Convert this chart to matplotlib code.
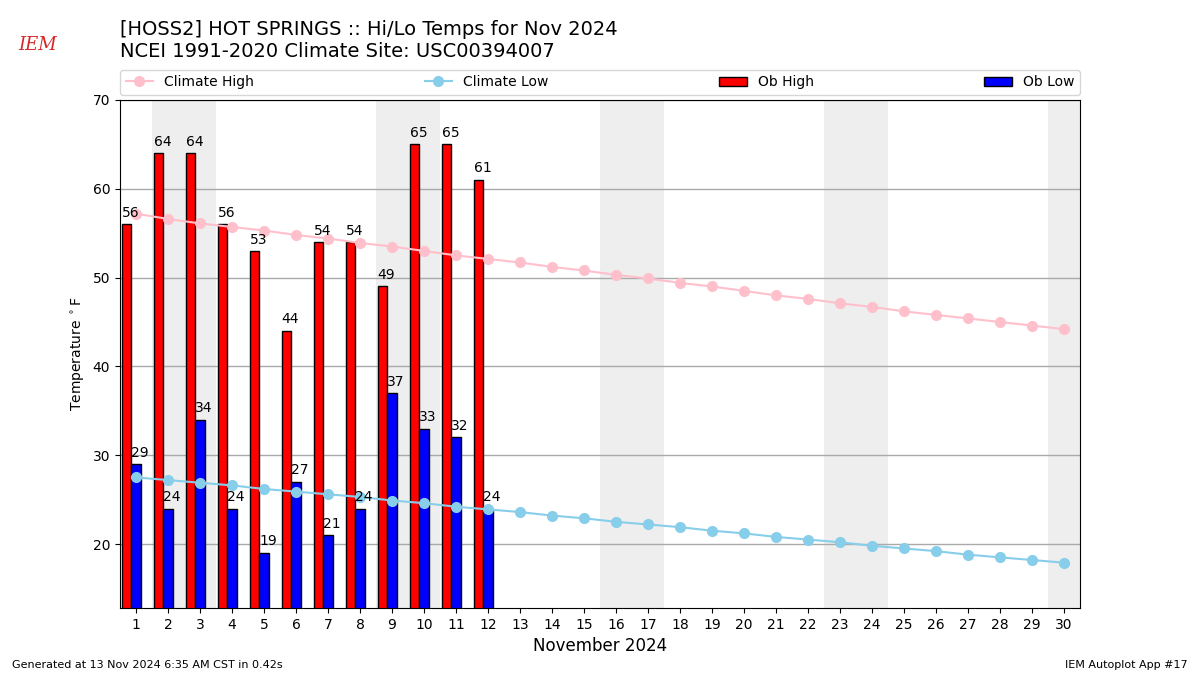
import numpy as np
import matplotlib
matplotlib.use('Agg')
import matplotlib.pyplot as plt

# Observed daily values (days 1-12)
obs_days = np.arange(1, 13)
ob_high = [56, 64, 64, 56, 53, 44, 54, 54, 49, 65, 65, 61]
ob_low = [29, 24, 34, 24, 19, 27, 21, 24, 37, 33, 32, 24]

# NCEI 1991-2020 climatology (days 1-30)
days = np.arange(1, 31)
climate_high = [57.2, 56.6, 56.1, 55.7, 55.3, 54.8, 54.4, 53.9, 53.5, 53.0,
                52.5, 52.1, 51.7, 51.2, 50.8, 50.3, 49.9, 49.4, 49.0, 48.5,
                48.0, 47.6, 47.1, 46.7, 46.2, 45.8, 45.4, 45.0, 44.6, 44.2]
climate_low = [27.5, 27.2, 26.9, 26.6, 26.2, 25.9, 25.6, 25.3, 24.9, 24.6,
               24.2, 23.9, 23.6, 23.2, 22.9, 22.5, 22.2, 21.9, 21.5, 21.2,
               20.8, 20.5, 20.2, 19.8, 19.5, 19.2, 18.8, 18.5, 18.2, 17.9]
weekends = [2, 9, 16, 23, 30]  # Saturdays

fig = plt.figure(figsize=(12, 6.75), dpi=100)
ax = fig.add_axes([0.1, 0.0993, 0.8, 0.7526])

# weekend shading
for d in weekends:
    ax.axvspan(d - 0.5, min(d + 1.5, 30.5), color='#EEEEEE', zorder=0, lw=0)

ax.plot(days, climate_high, color='pink', marker='o', ms=7, lw=1.5,
        label='Climate High', zorder=3)
ax.plot(days, climate_low, color='skyblue', marker='o', ms=7, lw=1.5,
        label='Climate Low', zorder=3)

ax.bar(obs_days - 0.3, ob_high, width=0.3, color='red', edgecolor='k',
       label='Ob High', zorder=2)
ax.bar(obs_days, ob_low, width=0.3, color='b', edgecolor='k',
       label='Ob Low', zorder=2)

for d, h, l in zip(obs_days, ob_high, ob_low):
    ax.text(d - 0.45, h + 0.5, str(h), ha='left', va='bottom', fontsize=10, zorder=4)
    ax.text(d - 0.15, l + 0.5, str(l), ha='left', va='bottom', fontsize=10, zorder=4)

ax.set_xlim(0.5, 30.5)
ax.set_ylim(12.8, 70)
ax.set_xticks(days)
ax.set_yticks(range(20, 71, 10))
ax.grid(axis='y', color='#aaaaaa', lw=1, zorder=1)
ax.set_axisbelow(True)
ax.set_xlabel('November 2024', fontsize=12)
ax.set_ylabel(r'Temperature $^\circ$F')

ax.legend(loc='lower left', bbox_to_anchor=(0, 1.01, 1, 0.05), ncol=4,
          mode='expand', borderaxespad=0, fontsize=10)

fig.text(0.1, 0.94, '[HOSS2] HOT SPRINGS :: Hi/Lo Temps for Nov 2024\n'
         'NCEI 1991-2020 Climate Site: USC00394007',
         fontsize=14, va='center', ha='left')
fig.text(0.01, 0.01, 'Generated at 13 Nov 2024 6:35 AM CST in 0.42s', fontsize=8)
fig.text(0.99, 0.01, 'IEM Autoplot App #17', fontsize=8, ha='right')
fig.text(0.031, 0.933, 'IEM', color='#d62728', fontsize=13, style='italic',
         family='serif', ha='center', va='center')

fig.savefig('out.png')
